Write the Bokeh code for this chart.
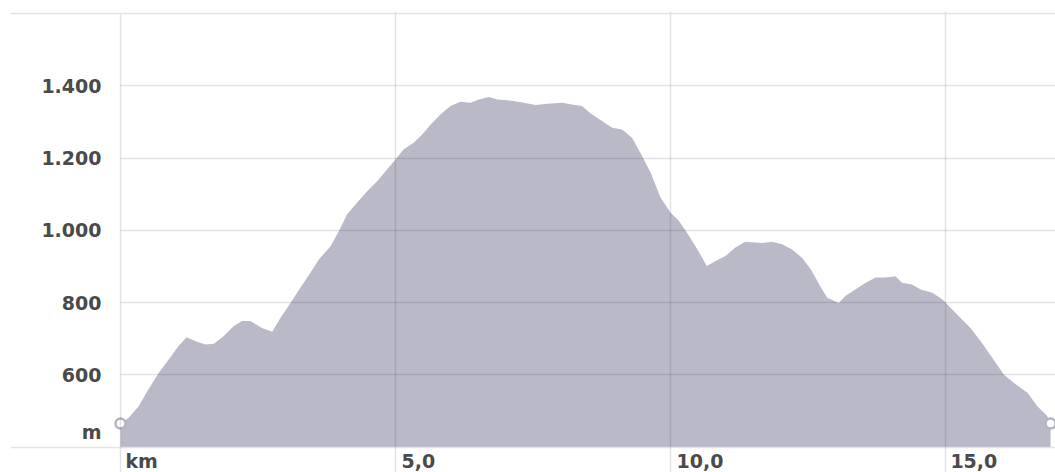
from bokeh.plotting import figure
from bokeh.models import FixedTicker, Range1d, Grid
from bokeh.embed import file_html
from bokeh.resources import INLINE

# distance along the route (km) and elevation (m)
km = [0.00, 0.15, 0.33, 0.49, 0.70, 0.88, 1.06, 1.20, 1.40, 1.55,
      1.70, 1.88, 2.06, 2.21, 2.36, 2.58, 2.76, 2.91, 3.09, 3.27,
      3.45, 3.61, 3.82, 4.00, 4.12, 4.30, 4.49, 4.67, 4.85, 5.00,
      5.15, 5.33, 5.49, 5.64, 5.82, 6.00, 6.18, 6.36, 6.52, 6.70,
      6.85, 7.15, 7.33, 7.55, 7.76, 8.03, 8.18, 8.39, 8.55, 8.76,
      8.94, 9.12, 9.30, 9.45, 9.64, 9.82, 10.00, 10.15, 10.30, 10.49,
      10.66, 10.82, 11.00, 11.18, 11.36, 11.67, 11.85, 12.03, 12.21, 12.39,
      12.55, 12.73, 12.85, 13.06, 13.18, 13.36, 13.55, 13.73, 13.91, 14.09,
      14.21, 14.39, 14.55, 14.76, 14.94, 15.03, 15.21, 15.45, 15.64, 15.85,
      16.06, 16.24, 16.49, 16.67, 16.85, 16.91]
elev = [465, 481, 513, 555, 606, 643, 680, 704, 691, 684,
        686, 707, 735, 749, 749, 729, 719, 758, 799, 841,
        882, 920, 956, 1006, 1044, 1076, 1109, 1136, 1169, 1196,
        1224, 1242, 1266, 1293, 1321, 1344, 1356, 1353, 1362, 1369,
        1362, 1358, 1353, 1347, 1350, 1353, 1349, 1344, 1323, 1302,
        1284, 1279, 1256, 1215, 1159, 1090, 1049, 1026, 993, 947,
        901, 915, 929, 952, 968, 965, 968, 961, 947, 924,
        892, 843, 813, 799, 818, 836, 855, 869, 869, 873,
        855, 850, 836, 827, 809, 795, 767, 730, 693, 647,
        601, 578, 550, 513, 486, 465]

# tick labels (x labels sit just right of their grid line)
y_ticks = [441, 600, 800, 1000, 1200, 1400]
y_labels = ["m", "600", "800", "1.000", "1.200", "1.400"]
x_ticks = [0.385, 5.415, 10.535, 15.515]
x_labels = ["km", "5,0", "10,0", "15,0"]
y_grid = [600, 800, 1000, 1200, 1400]
y_top = 1600
x_grid = [5, 10, 15]

base = 400
x_start, x_end = -2.0, 17.0
y_start, y_end = 329.5, 1605.5

GRID = "#3c3c50"
LIGHT = "#e3e3e7"
TEXT = "#4a4a4a"
FILL = "#b9b9c7"
FONT = "DejaVu Sans"

p = figure(width=1055, height=472, output_backend="svg", toolbar_location=None,
           x_range=Range1d(x_start, x_end), y_range=Range1d(y_start, y_end),
           min_border_left=10, min_border_right=0, min_border_top=11,
           min_border_bottom=0)
p.outline_line_color = None

p.varea(x=km, y1=base, y2=elev, fill_color=FILL)
p.scatter(x=[km[0], km[-1]], y=[elev[0], elev[-1]], size=10,
          fill_color="white", line_color="#b3b3c1", line_width=2.5)

p.xgrid.ticker = FixedTicker(ticks=x_grid)
p.xgrid.bounds = (y_start, y_top)
p.ygrid.ticker = FixedTicker(ticks=y_grid)
p.ygrid.cross_bounds = (0, x_end)
top_grid = Grid(dimension=1, ticker=FixedTicker(ticks=[y_top]))
p.add_layout(top_grid)
for g in (p.xgrid[0], p.ygrid[0], top_grid):
    g.grid_line_color = GRID
    g.grid_line_alpha = 0.14
    g.grid_line_width = 1.5
    g.level = "annotation"
top_grid.grid_line_color = LIGHT
top_grid.grid_line_alpha = 1.0

xa = p.xaxis[0]
xa.fixed_location = base
xa.ticker = FixedTicker(ticks=x_ticks)
xa.major_label_overrides = dict(zip(x_ticks, x_labels))
xa.major_tick_line_color = None
xa.major_tick_out = 0
xa.major_tick_in = 0
xa.minor_tick_line_color = None
xa.axis_line_color = LIGHT
xa.axis_line_width = 1.5
xa.major_label_standoff = 3
xa.major_label_text_font = FONT
xa.major_label_text_font_style = "bold"
xa.major_label_text_font_size = "19px"
xa.major_label_text_color = TEXT

ya = p.yaxis[0]
ya.fixed_location = 0
ya.bounds = (y_start, y_top)
ya.ticker = FixedTicker(ticks=y_ticks)
ya.major_label_overrides = dict(zip(y_ticks, y_labels))
ya.major_tick_line_color = None
ya.major_tick_out = 0
ya.major_tick_in = 0
ya.minor_tick_line_color = None
ya.axis_line_color = GRID
ya.axis_line_alpha = 0.14
ya.axis_line_width = 1.5
ya.major_label_standoff = 19
ya.major_label_text_font = FONT
ya.major_label_text_font_style = "bold"
ya.major_label_text_font_size = "19px"
ya.major_label_text_color = TEXT

open("out.html", "w").write(file_html(p, INLINE))
